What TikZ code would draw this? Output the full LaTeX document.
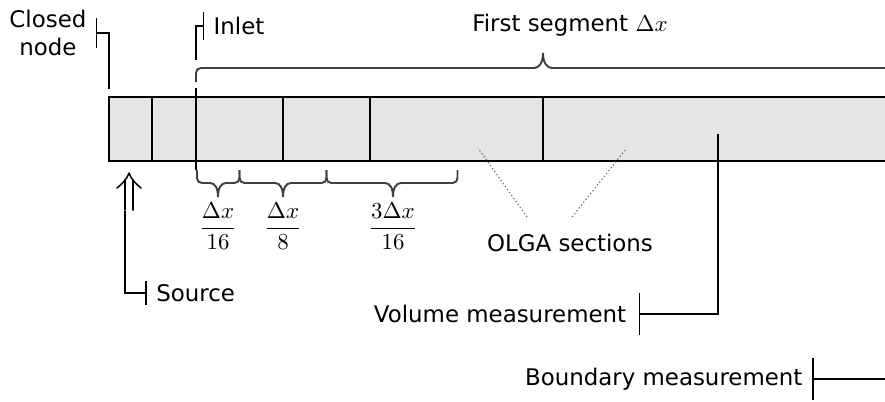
\documentclass[tikz,border=0pt]{standalone}
\usepackage{fontspec}
\setmainfont{DejaVu Sans}
\usetikzlibrary{arrows.meta}
\newcommand{\mybrace}[3]{% left, tip, right (pointing down)
  \draw[brc] (#1,170) -- (#1,178) .. controls (#1,181) and ({#1+2},183) .. ({#1+5},183)
    -- ({#2-8},183) .. controls ({#2-3},183) and (#2,188) .. (#2,197)
    .. controls (#2,188) and ({#2+3},183) .. ({#2+8},183)
    -- ({#3-5},183) .. controls ({#3-2},183) and (#3,181) .. (#3,178) -- (#3,170);}
\begin{document}
\begin{tikzpicture}[x=0.4367pt,y=-0.4367pt,
  lbl/.style={font=\normalsize, inner xsep=4pt, inner ysep=0pt},
  conn/.style={line width=0.65pt},
  tickend/.style={conn,-{Bar[width=#1]}},
  pipe/.style={draw, line width=0.8pt, fill=gray!20},
  divider/.style={line width=0.65pt},
  brc/.style={line width=0.85pt, draw=black!75},
  olgaline/.style={line width=0.45pt, draw=black!60, dash pattern=on 0.6pt off 1pt},
  fracnode/.style={inner sep=0pt},
  srcarrow/.style={line width=0.65pt, line cap=round, line join=round}
]
\path[use as bounding box] (0,0) rectangle (885,401);
\clip (0,0) rectangle (885,401);

% pipe
\draw[pipe] (109,97) rectangle (895,161);
\foreach \x in {152,283,370,543} \draw[divider] (\x,97) -- (\x,161);
\draw[divider] (196,88) -- (196,170);

% labels
\node[lbl, anchor=east, align=center] (closed) at (96,33) {Closed\\node};
\node[lbl, anchor=west] (inlet) at (204,26) {Inlet};
\node[lbl, anchor=west] (source) at (146.7,293) {Source};
\node[lbl, anchor=east, inner xsep=5.2pt] (volume) at (638.5,314) {Volume measurement};
\node[lbl, anchor=east] (boundary) at (812,379) {Boundary measurement};
\node[lbl] (first) at (570,25) {First segment $\Delta x$};
\node[lbl] (olga) at (570,243) {OLGA sections};
\node[fracnode] (f1) at (218,226) {$\displaystyle\frac{\Delta x}{16}$};
\node[fracnode] (f2) at (283,226) {$\displaystyle\frac{\Delta x}{8}$};
\node[fracnode] (f3) at (393,226) {$\displaystyle\frac{3\Delta x}{16}$};

% connector anchors
\coordinate (cn) at (109,89);
\coordinate (in0) at (196,60);
\coordinate (src0) at (125,211);
\coordinate (vm0) at (718,134);
\coordinate (bm0) at (890,379);
\coordinate (arrbot) at (129,210);
\coordinate (arrneck) at (129,178);
\coordinate (arrtop) at (129,173);
\coordinate (o1) at (478,148);
\coordinate (o2) at (626,149);
\coordinate (ol) at (527,217);
\coordinate (or) at (572,217);

% connectors
\draw[tickend=13pt] (cn) |- (closed.east);
\draw[tickend=12.2pt] (in0) |- (inlet.west);
\draw[tickend=10.5pt] (src0) |- (source.west);
\draw[tickend=18.3pt] (vm0) |- (volume.east);
\draw[tickend=18.3pt] (bm0) -- (boundary.east);
% source double arrow
\draw[srcarrow] (125,210) -- (125,180) (133,210) -- (133,180);
\draw[srcarrow] (117,188) .. controls (122,184) and (127,179) .. (arrtop)
  .. controls (131,179) and (136,184) .. (141,188);
\draw[olgaline] (ol) -- (o1);
\draw[olgaline] (or) -- (o2);

% braces
\draw[brc] (196,82) -- (196,73) .. controls (196,70) and (198,68) .. (201,68)
  -- (534,68) .. controls (539,68) and (543,63) .. (543,53)
  .. controls (543,63) and (547,68) .. (552,68)
  -- (885,68) .. controls (888,68) and (890,70) .. (890,73) -- (890,82);
\mybrace{197}{218}{239.5}
\mybrace{239.5}{283}{326.5}
\mybrace{326.5}{393}{457.5}
\end{tikzpicture}
\end{document}
